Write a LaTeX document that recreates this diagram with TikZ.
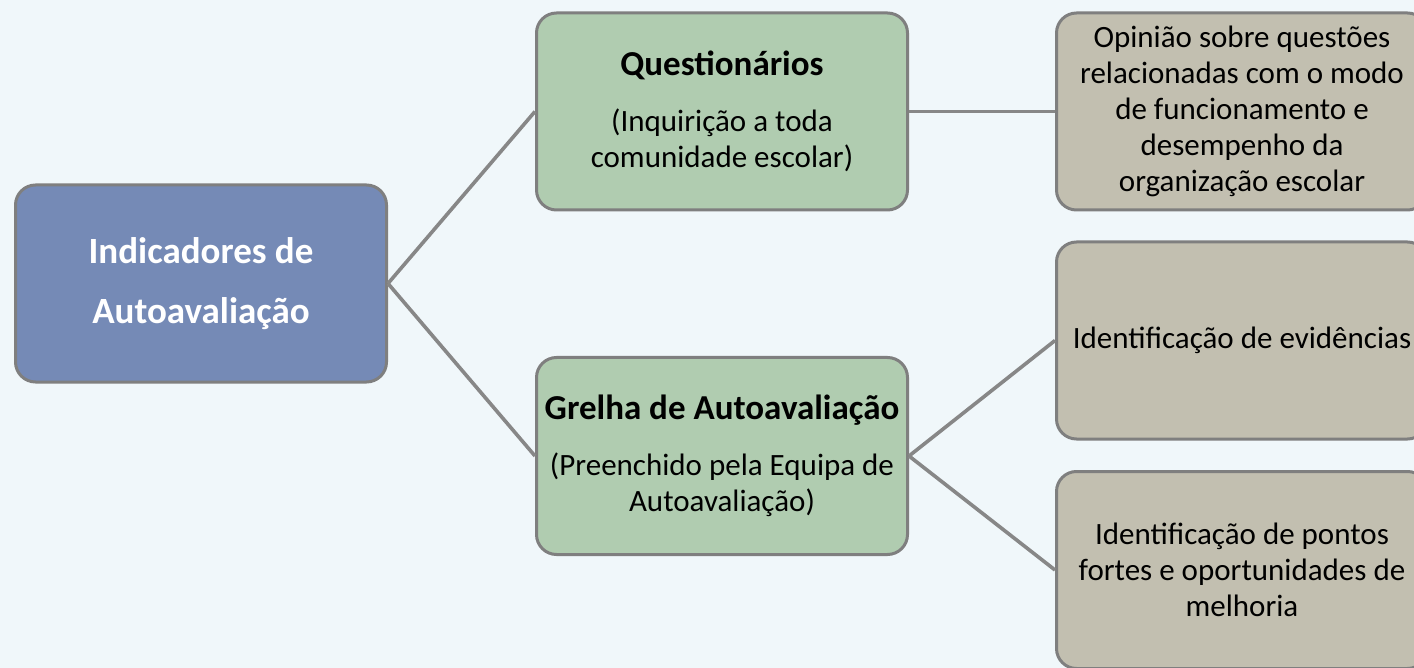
\documentclass[tikz,border=0pt]{standalone}
\usepackage{fontspec}
\setmainfont{Carlito}
\definecolor{fundo}{HTML}{F0F7FA}
\definecolor{azulraiz}{HTML}{758AB6}
\definecolor{verdemeio}{HTML}{B0CCB0}
\definecolor{cinzafolha}{HTML}{C2BFB0}
\definecolor{borda}{HTML}{7F7F7F}
\definecolor{ligacao}{HTML}{878787}
\begin{document}
\begin{tikzpicture}[
        x=0.5pt, y=-0.5pt,
        every node/.style={draw=borda, line width=1.5pt, rounded corners=10pt, align=center,
            minimum width=185.5pt, minimum height=98.5pt, inner sep=2pt},
        raiz/.style={fill=azulraiz, text=white, font=\fontsize{18.5}{30}\selectfont\bfseries},
        meio/.style={fill=verdemeio, font=\fontsize{15.5}{18}\selectfont},
        folha/.style={fill=cinzafolha, font=\fontsize{15.5}{18}\selectfont},
        ligar/.style={draw=ligacao, line width=1.8pt}
    ]
        % Fundo e limites
        \fill[fundo] (0,0) rectangle (1414,668);
        \useasboundingbox (0,0) rectangle (1414,668);
        \clip (0,0) rectangle (1414,668);

        % Caixas
        \node[raiz] (raiz) at (201,283.5) {Indicadores de\\Autoavaliação};
        \node[meio] (quest) at (722,111.5) {{\fontsize{17.5}{18}\selectfont\bfseries Questionários}\\[10pt]
            (Inquirição a toda\\comunidade escolar)};
        \node[meio] (grelha) at (722,456) {{\fontsize{17.5}{18}\selectfont\bfseries Grelha de Autoavaliação}\\[10pt]
            (Preenchido pela Equipa de\\Autoavaliação)};
        \node[folha] (opiniao) at (1242,111.5) {Opinião sobre questões\\relacionadas com o modo\\de funcionamento e\\desempenho da\\organização escolar};
        \node[folha] (evid) at (1242,340.5) {Identificação de evidências};
        \node[folha] (pontos) at (1242,570) {Identificação de pontos\\fortes e oportunidades de\\melhoria};

        % Ligações
        \draw[ligar] (raiz.east) -- (quest.west);
        \draw[ligar] (raiz.east) -- (grelha.west);
        \draw[ligar] (quest.east) -- (opiniao.west);
        \draw[ligar] (grelha.east) -- (evid.west);
        \draw[ligar] (grelha.east) -- (pontos.west);
    \end{tikzpicture}
\end{document}
